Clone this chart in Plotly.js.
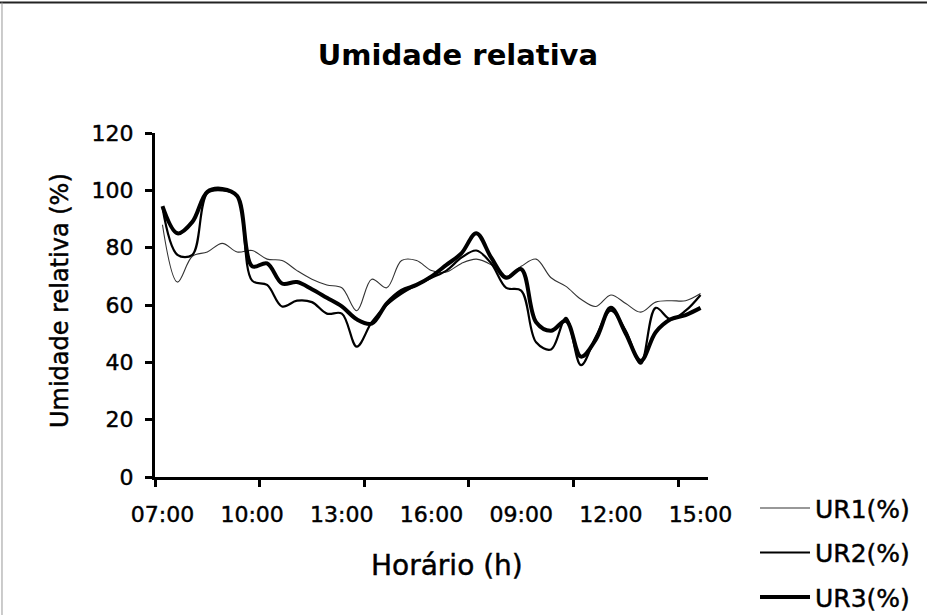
<!DOCTYPE html>
<html>
<head>
<meta charset="utf-8">
<script src="https://cdn.plot.ly/plotly-3.0.1.min.js"></script>
<style>
  html, body { margin: 0; padding: 0; background: #fff; }
  #grafico { width: 927px; height: 615px; }
  /* traço um pouco mais encorpado nos textos regulares */
  #grafico .xtick text, #grafico .ytick text,
  #grafico .annotation-text, #grafico .legendtext {
    stroke: #000; stroke-width: 0.45px;
  }
</style>
</head>
<body>
<div id="grafico"></div>
<script>
// Leituras a cada 30 min em dois dias (07:00–16:30 e 07:00–15:00)
const horarios = [
  '07:00','07:30','08:00','08:30','09:00','09:30','10:00','10:30','11:00','11:30',
  '12:00','12:30','13:00','13:30','14:00','14:30','15:00','15:30','16:00','16:30',
  '07:00','07:30','08:00','08:30','09:00','09:30','10:00','10:30','11:00','11:30',
  '12:00','12:30','13:00','13:30','14:00','14:30','15:00'
];

// Umidade relativa (%) em cada ponto de medição
const ur1 = [
  88, 68, 77, 78.5, 81.5, 78.5, 79, 76, 75.5, 72,
  69, 67, 66, 58, 69, 66, 75.5, 75.5, 72, 71.5,
  74.5, 76, 74, 70, 73.5, 76, 69.5, 66.5, 62, 59.5,
  63.5, 60.5, 57.5, 61, 61.5, 61.5, 64
];
const ur2 = [
  94, 77.5, 77.5, 99, 100, 98, 68.5, 67, 59.5, 61.5,
  61, 57, 57, 45.5, 54, 60, 64, 67, 69.5, 72,
  76.5, 79, 74.5, 66, 65, 47, 44.5, 55.5, 39, 49,
  58, 51, 39.5, 59, 55, 58, 63.5
];
const ur3 = [
  94.5, 85, 89, 99.5, 100.5, 98, 73.5, 74.5, 67.5, 68,
  65.5, 62.5, 59.5, 55, 53.5, 60.5, 65, 67, 70, 74,
  78, 85, 76.5, 69.5, 72.5, 54, 51, 54.5, 42, 48,
  59, 50, 40.5, 50.5, 55, 56.5, 59
];

// Rótulos do eixo X: um a cada 3 horas (6 leituras)
const passoRotulo = 6;
const posRotulos = horarios.map((_, i) => i).filter(i => i % passoRotulo === 0);
const rotulosEixo = posRotulos.map(i => horarios[i]);

const xs = horarios.map((_, i) => i);
const fonte = 'DejaVu Sans';

const series = [
  { nome: 'UR1(%)', y: ur1, largura: 1.1, cor: '#333' },
  { nome: 'UR2(%)', y: ur2, largura: 2.2, cor: '#000' },
  { nome: 'UR3(%)', y: ur3, largura: 4,   cor: '#000' }
];

const traces = series.map((s, k) => ({
  type: 'scatter',
  mode: 'lines',
  x: xs,
  y: s.y,
  name: s.nome,
  legendgroup: 'g' + k,
  line: { color: s.cor, width: s.largura, shape: 'spline', smoothing: 1 },
  hoverinfo: 'skip'
}));

const layout = {
  width: 927,
  height: 615,
  paper_bgcolor: '#fff',
  plot_bgcolor: '#fff',
  margin: { l: 155, r: 219, t: 133, b: 138, autoexpand: false },
  title: {
    text: 'Umidade relativa',
    x: 0.494, xanchor: 'center',
    y: 1 - 55 / 615, yanchor: 'middle',
    font: { family: fonte, size: 29, weight: 700, color: '#000' }
  },
  xaxis: {
    range: [-0.5, horarios.length - 0.5],
    tickmode: 'array',
    tickvals: posRotulos,
    ticktext: rotulosEixo,
    ticks: '',
    ticklabelstandoff: 16,
    tickfont: { family: fonte, size: 22, color: '#000' },
    showline: true, linecolor: '#000', linewidth: 3,
    showgrid: false, zeroline: false,
    minor: {
      tickmode: 'linear', tick0: -0.5, dtick: 7,
      ticks: 'outside', ticklen: 7, tickwidth: 3, tickcolor: '#000',
      showgrid: false
    }
  },
  yaxis: {
    range: [0, 120],
    tickmode: 'linear', tick0: 0, dtick: 20,
    ticks: 'outside', ticklen: 7, tickwidth: 3, tickcolor: '#000',
    ticklabelstandoff: 7,
    tickfont: { family: fonte, size: 22, color: '#000' },
    showline: true, linecolor: '#000', linewidth: 3,
    showgrid: false, zeroline: false
  },
  annotations: [
    {
      text: 'Umidade relativa (%)',
      xref: 'paper', yref: 'paper',
      x: -0.172, y: 0.514,
      xanchor: 'center', yanchor: 'middle',
      textangle: -90, showarrow: false,
      font: { family: fonte, size: 24, color: '#000' }
    },
    {
      text: 'Horário (h)',
      xref: 'paper', yref: 'paper',
      x: 0.528, y: -0.257,
      xanchor: 'center', yanchor: 'middle',
      showarrow: false,
      font: { family: fonte, size: 28, color: '#000' }
    }
  ],
  legend: {
    x: 1.085, y: -0.024, xanchor: 'left', yanchor: 'top',
    traceorder: 'grouped', tracegroupgap: 9,
    itemwidth: 50,
    bgcolor: 'rgba(0,0,0,0)',
    font: { family: fonte, size: 25, color: '#000' }
  },
  shapes: [
    // moldura da área do gráfico (bordas superior e esquerda)
    { type: 'line', xref: 'paper', yref: 'paper',
      x0: -0.2803, x1: 1.396, y0: 1.3795, y1: 1.3795,
      line: { color: '#222', width: 2 } },
    { type: 'line', xref: 'paper', yref: 'paper',
      x0: -0.2767, x1: -0.2767, y0: 1.3795, y1: -0.402,
      line: { color: '#999', width: 1 } }
  ],
  showlegend: true
};

Plotly.newPlot('grafico', traces, layout, { displayModeBar: false, staticPlot: true });
</script>
</body>
</html>
